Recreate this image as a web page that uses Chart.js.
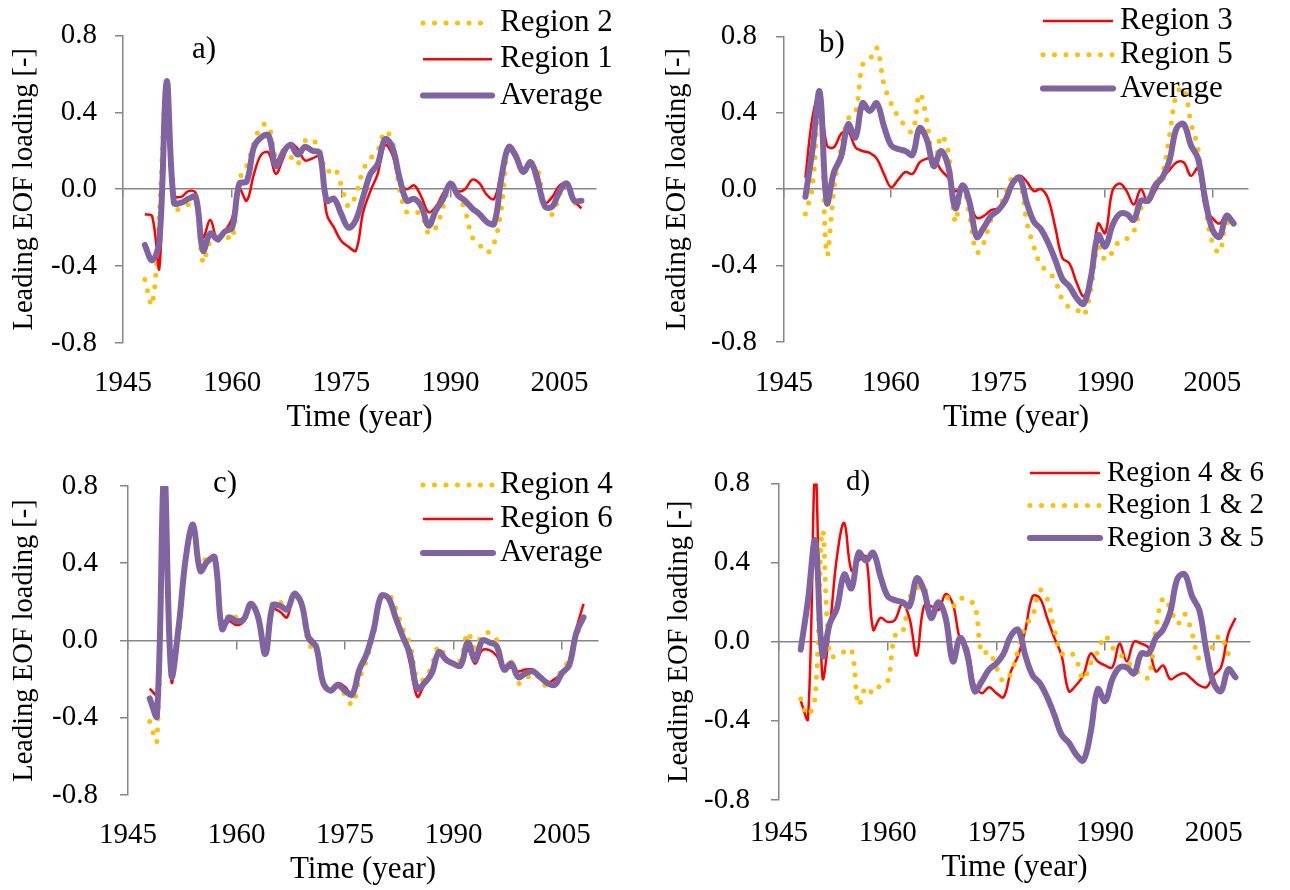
<!DOCTYPE html>
<html>
<head>
<meta charset="utf-8">
<script src="https://cdn.jsdelivr.net/npm/chart.js@4.4.1/dist/chart.umd.min.js"></script>
<style>
  html, body { margin: 0; padding: 0; background: #ffffff; }
  #wrap { position: relative; width: 1290px; height: 890px; background: #ffffff; overflow: hidden; }
  .panel { position: absolute; width: 645px; height: 445px; }
  .panel canvas { display: block; }
</style>
</head>
<body>
<div id="wrap">
  <div class="panel" style="left:0;top:0"><canvas id="chartA" width="645" height="445"></canvas></div>
  <div class="panel" style="left:645px;top:0"><canvas id="chartB" width="645" height="445"></canvas></div>
  <div class="panel" style="left:0;top:445px"><canvas id="chartC" width="645" height="445"></canvas></div>
  <div class="panel" style="left:645px;top:445px"><canvas id="chartD" width="645" height="445"></canvas></div>
</div>
<script>
// ---- data: leading EOF loadings, 1948-2008 ----
const years = [1948,1949,1950,1951,1952,1953,1954,1955,1956,1957,1958,1959,1960,1961,1962,1963,1964,1965,1966,1967,
  1968,1969,1970,1971,1972,1973,1974,1975,1976,1977,1978,1979,1980,1981,1982,1983,1984,1985,1986,1987,
  1988,1989,1990,1991,1992,1993,1994,1995,1996,1997,1998,1999,2000,2001,2002,2003,2004,2005,2006,2007,2008];

const xTickYears = [1945, 1960, 1975, 1990, 2005];
const yTickValues = [-0.8, -0.4, 0.0, 0.4, 0.8];

// panel a
const region1 = [-0.13,-0.14,-0.41,0.56,-0.03,-0.04,-0.01,-0.02,-0.25,-0.16,-0.27,-0.22,-0.15,0.00,-0.06,0.08,0.18,0.19,0.08,0.16,
  0.24,0.21,0.15,0.16,0.17,-0.13,-0.20,-0.27,-0.30,-0.32,-0.12,-0.01,0.08,0.23,0.18,0.04,0.00,0.02,-0.04,-0.12,
  -0.09,-0.02,0.03,-0.01,0.00,0.05,0.03,-0.03,-0.05,0.09,0.22,0.19,0.10,0.15,0.08,-0.07,-0.04,0.02,0.03,-0.06,-0.10];
const region2 = [-0.47,-0.60,-0.12,0.55,-0.10,-0.10,-0.08,-0.06,-0.38,-0.27,-0.25,-0.24,-0.26,0.05,0.12,0.24,0.33,0.33,0.17,0.20,
  0.17,0.13,0.25,0.26,0.20,0.09,0.11,0.02,-0.09,-0.03,0.10,0.16,0.20,0.30,0.25,0.00,-0.12,-0.12,-0.13,-0.23,
  -0.20,-0.09,0.02,-0.03,-0.11,-0.25,-0.29,-0.33,-0.28,-0.10,0.22,0.17,0.10,0.14,0.10,-0.10,-0.13,-0.03,0.03,-0.07,-0.06];
const averageA = [-0.29,-0.37,-0.27,0.56,-0.07,-0.07,-0.05,-0.04,-0.32,-0.23,-0.26,-0.22,-0.20,0.03,0.04,0.22,0.27,0.28,0.12,0.19,
  0.23,0.18,0.22,0.20,0.19,-0.06,-0.05,-0.13,-0.20,-0.16,-0.04,0.08,0.13,0.26,0.22,0.06,-0.06,-0.05,-0.09,-0.19,
  -0.11,-0.05,0.03,-0.03,-0.06,-0.10,-0.13,-0.17,-0.18,0.06,0.22,0.17,0.09,0.14,0.04,-0.09,-0.09,-0.01,0.03,-0.06,-0.06];

// panel b
const region3 = [0.06,0.38,0.50,0.23,0.22,0.29,0.30,0.22,0.20,0.19,0.16,0.08,0.01,0.05,0.09,0.08,0.14,0.16,0.16,0.10,
  0.06,-0.01,0.01,-0.07,-0.15,-0.14,-0.11,-0.10,-0.07,0.02,0.07,0.04,-0.01,0.00,-0.05,-0.20,-0.36,-0.39,-0.49,-0.56,
  -0.45,-0.18,-0.23,-0.01,0.03,-0.01,-0.08,0.00,-0.07,-0.01,0.06,0.10,0.14,0.14,0.07,0.11,-0.10,-0.15,-0.18,-0.13,-0.17];
const region5 = [-0.13,0.02,0.50,-0.34,0.00,0.22,0.37,0.40,0.65,0.68,0.74,0.55,0.45,0.38,0.33,0.30,0.50,0.36,0.10,0.28,
  0.20,-0.17,0.03,-0.14,-0.33,-0.28,-0.16,-0.11,-0.02,0.06,0.05,-0.17,-0.30,-0.40,-0.43,-0.48,-0.58,-0.62,-0.63,-0.66,
  -0.52,-0.30,-0.37,-0.33,-0.27,-0.26,-0.22,-0.10,-0.05,0.03,0.08,0.28,0.50,0.53,0.35,0.21,-0.08,-0.28,-0.33,-0.18,-0.18];
const averageB = [-0.04,0.21,0.51,-0.07,0.09,0.17,0.34,0.27,0.45,0.41,0.45,0.33,0.23,0.21,0.20,0.18,0.32,0.26,0.12,0.20,
  0.12,-0.10,0.02,-0.07,-0.25,-0.20,-0.14,-0.11,-0.06,0.03,0.06,-0.07,-0.17,-0.21,-0.28,-0.37,-0.47,-0.51,-0.57,-0.60,
  -0.46,-0.24,-0.30,-0.19,-0.13,-0.13,-0.16,-0.06,-0.06,0.02,0.06,0.15,0.32,0.34,0.23,0.16,-0.05,-0.21,-0.25,-0.14,-0.18];

// panel c
const region4 = [-0.42,-0.52,0.86,-0.14,0.02,0.44,0.60,0.37,0.44,0.43,0.05,0.14,0.12,0.11,0.19,0.12,-0.06,0.20,0.20,0.17,
  0.24,0.19,-0.02,-0.05,-0.22,-0.26,-0.24,-0.28,-0.33,-0.20,-0.10,0.04,0.22,0.24,0.17,0.06,-0.02,-0.20,-0.20,-0.13,
  -0.03,-0.09,-0.12,-0.10,0.04,-0.04,0.03,0.04,0.00,-0.16,-0.11,-0.22,-0.20,-0.17,-0.20,-0.24,-0.22,-0.15,-0.10,0.03,0.08];
const region6 = [-0.25,-0.28,0.88,-0.21,0.10,0.42,0.60,0.36,0.40,0.42,0.06,0.10,0.08,0.10,0.19,0.13,-0.07,0.16,0.15,0.12,
  0.25,0.20,0.03,-0.02,-0.21,-0.26,-0.22,-0.24,-0.28,-0.16,-0.08,0.05,0.23,0.22,0.13,0.03,-0.12,-0.29,-0.23,-0.18,
  -0.06,-0.10,-0.11,-0.14,-0.05,-0.12,-0.05,-0.05,-0.08,-0.15,-0.14,-0.16,-0.15,-0.15,-0.19,-0.22,-0.20,-0.17,-0.11,0.06,0.19];
const averageC = [-0.30,-0.39,0.87,-0.18,0.07,0.43,0.60,0.36,0.41,0.43,0.06,0.12,0.10,0.11,0.19,0.12,-0.07,0.18,0.18,0.16,
  0.24,0.19,0.01,-0.03,-0.22,-0.26,-0.23,-0.26,-0.28,-0.15,-0.07,0.06,0.23,0.22,0.12,0.02,-0.07,-0.25,-0.22,-0.17,
  -0.06,-0.10,-0.12,-0.13,-0.01,-0.10,0.00,-0.01,-0.03,-0.15,-0.12,-0.19,-0.17,-0.16,-0.19,-0.22,-0.23,-0.17,-0.13,0.04,0.12];

// ---- styling ----
const FONT = "'Liberation Serif', 'Times New Roman', serif";
const TICK_SIZE = 29;      // tick labels
const XTITLE_SIZE = 31;    // "Time (year)"
const YTITLE_SIZE = 28.5;  // rotated value-axis title
const AXIS_GREY = '#868686';
const RED = '#FF0000';
const GOLD = '#FFC000';
const PURPLE = '#8064A2';

function points(values) {
  return years.map((yr, i) => ({ x: yr, y: values[i] }));
}

function redLine(label, values, order) {
  return { label, data: points(values), borderColor: RED, borderWidth: 2.5,
    borderCapStyle: 'butt', order };
}
function goldDots(label, values, order) {
  return { label, data: points(values), borderColor: GOLD, borderWidth: 5,
    borderDash: [0, 11.5], borderCapStyle: 'round', order };
}
function purpleLine(label, values, order) {
  return { label, data: points(values), borderColor: PURPLE, borderWidth: 6,
    borderCapStyle: 'round', borderJoinStyle: 'round', order };
}

function fmtY(v) {
  if (Math.abs(v) < 1e-9) return '0.0';
  return v.toFixed(1);
}

// legend rows + panel tag drawn over the plot
const panelDecor = {
  id: 'panelDecor',
  afterDatasetsDraw(chart, args, opts) {
    const ctx = chart.ctx;
    ctx.save();
    chart.data.datasets.forEach((d, i) => {
      const y = opts.y0 + i * opts.dy;
      ctx.beginPath();
      ctx.strokeStyle = d.borderColor;
      ctx.lineWidth = d.borderWidth;
      ctx.lineCap = d.borderCapStyle || 'butt';
      ctx.setLineDash(d.borderDash || []);
      ctx.moveTo(opts.x1, y);
      ctx.lineTo(opts.x2, y);
      ctx.stroke();
      ctx.setLineDash([]);
      ctx.fillStyle = '#000';
      ctx.font = opts.fontSize + 'px ' + FONT;
      ctx.textAlign = 'left';
      ctx.textBaseline = 'middle';
      ctx.fillText(d.label, opts.textX, y);
    });
    ctx.fillStyle = '#000';
    ctx.font = opts.fontSize + 'px ' + FONT;
    ctx.textAlign = 'center';
    ctx.textBaseline = 'middle';
    ctx.fillText(opts.tag, opts.tagX, opts.tagY);
    ctx.restore();
  }
};

function setYearTicks(scale) {
  scale.ticks = xTickYears.map(v => ({ value: v }));
}
function setValueTicks(scale) {
  scale.ticks = yTickValues.map(v => ({ value: v }));
}

function makePanel(canvasId, spec, datasets) {
  const W = 645, H = 445;
  const tickLH = TICK_SIZE * 1.2;
  const xTitleLH = XTITLE_SIZE * 1.2;
  const yTitleLH = YTITLE_SIZE * 1.2;
  const area = spec.area;
  return new Chart(document.getElementById(canvasId), {
    type: 'line',
    data: { datasets },
    options: {
      responsive: false,
      animation: false,
      events: [],
      devicePixelRatio: 1,
      layout: { padding: { left: 0, top: area.top, right: W - area.right, bottom: 0 } },
      elements: { point: { radius: 0 }, line: { tension: 0.38, fill: false } },
      plugins: {
        legend: { display: false },
        tooltip: { enabled: false },
        panelDecor: spec.decor
      },
      scales: {
        x: {
          type: 'linear', position: 'bottom', min: 1945, max: 2010,
          afterBuildTicks: setYearTicks,
          afterFit: s => { s.height = H - area.bottom; },
          grid: { display: false, drawTicks: false },
          border: { display: false },
          ticks: {
            color: '#000', font: { family: FONT, size: TICK_SIZE },
            padding: spec.labelY - area.bottom - tickLH / 2,
            maxRotation: 0, autoSkip: false,
            callback: v => String(v)
          },
          title: {
            display: true, text: 'Time (year)', color: '#000',
            font: { family: FONT, size: XTITLE_SIZE },
            padding: { top: 0, bottom: H - spec.titleY - xTitleLH / 2 }
          }
        },
        xZero: {
          type: 'linear', axis: 'x', position: { y: 0 }, min: 1945, max: 2010,
          afterBuildTicks: setYearTicks,
          ticks: { display: false },
          grid: { drawOnChartArea: false, drawTicks: true, tickLength: 8, color: AXIS_GREY, lineWidth: 1.5 },
          border: { display: true, color: AXIS_GREY, width: 1.5 }
        },
        y: {
          type: 'linear', position: 'left', min: -0.8, max: 0.8,
          afterBuildTicks: setValueTicks,
          afterFit: s => { s.width = area.left; },
          grid: { drawOnChartArea: false, drawTicks: true, tickLength: 8, color: AXIS_GREY, lineWidth: 1.5 },
          border: { display: true, color: AXIS_GREY, width: 1.5 },
          ticks: {
            color: '#000', font: { family: FONT, size: TICK_SIZE },
            padding: area.left - 8 - spec.labelRight,
            callback: v => fmtY(v)
          },
          title: {
            display: true, text: 'Leading EOF loading [-]', color: '#000',
            font: { family: FONT, size: YTITLE_SIZE },
            padding: { top: spec.yTitleX - yTitleLH / 2, bottom: 0 }
          }
        }
      }
    },
    plugins: [panelDecor]
  });
}

// a) Regions 1 and 2
makePanel('chartA', {
  area: { left: 123, top: 33, right: 596, bottom: 343 },
  labelY: 383, titleY: 418, yTitleX: 25, labelRight: 97,
  decor: { x1: 423, x2: 492, textX: 500, y0: 23, dy: 36.3, fontSize: 31, tag: 'a)', tagX: 204, tagY: 50 }
}, [
  goldDots('Region 2', region2, 3),
  redLine('Region 1', region1, 2),
  purpleLine('Average', averageA, 1)
]);

// b) Regions 3 and 5
makePanel('chartB', {
  area: { left: 139, top: 33, right: 603, bottom: 342 },
  labelY: 383, titleY: 418, yTitleX: 33, labelRight: 112,
  decor: { x1: 398, x2: 468, textX: 475, y0: 21, dy: 33.8, fontSize: 31, tag: 'b)', tagX: 187, tagY: 44 }
}, [
  redLine('Region 3', region3, 3),
  goldDots('Region 5', region5, 2),
  purpleLine('Average', averageB, 1)
]);

// c) Regions 4 and 6
makePanel('chartC', {
  area: { left: 128, top: 41, right: 598, bottom: 350 },
  labelY: 390, titleY: 425, yTitleX: 25, labelRight: 98,
  decor: { x1: 423, x2: 493, textX: 500, y0: 40, dy: 34, fontSize: 31, tag: 'c)', tagX: 225, tagY: 39 }
}, [
  goldDots('Region 4', region4, 3),
  redLine('Region 6', region6, 2),
  purpleLine('Average', averageC, 1)
]);

// d) regional averages compared
makePanel('chartD', {
  area: { left: 134, top: 29, right: 605, bottom: 355 },
  labelY: 388, titleY: 423, yTitleX: 35, labelRight: 105,
  decor: { x1: 385, x2: 455, textX: 462, y0: 28, dy: 32.5, fontSize: 29, tag: 'd)', tagX: 213, tagY: 37 }
}, [
  redLine('Region 4 & 6', averageC, 3),
  goldDots('Region 1 & 2', averageA, 2),
  purpleLine('Region 3 & 5', averageB, 1)
]);
</script>
</body>
</html>
